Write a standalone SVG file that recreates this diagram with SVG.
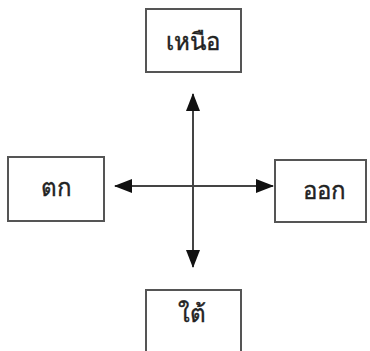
<svg xmlns="http://www.w3.org/2000/svg" width="370" height="351" viewBox="0 0 370 351">
<style>
.box{fill:#fff;stroke:#555;stroke-width:2}
.lbl{font-family:"Noto Sans","DejaVu Sans",sans-serif;font-size:24px;fill:#222;stroke:#222;stroke-width:0.4;text-anchor:middle}
.con{stroke:#444;stroke-width:2;fill:none}
</style>
<defs>
<marker id="ah" markerWidth="9" markerHeight="7" refX="8.5" refY="3.5" orient="auto" markerUnits="strokeWidth">
<path d="M0,0 L9,3.5 L0,7 Z" fill="#111"/>
</marker>
</defs>
<rect width="370" height="351" fill="#fff"/>
<g id="north"><rect class="box" x="146" y="9" width="95" height="63"/><text class="lbl" x="193" y="50">เหนือ</text></g>
<g id="west"><rect class="box" x="8" y="157" width="96" height="64"/><text class="lbl" x="56" y="196">ตก</text></g>
<g id="east"><rect class="box" x="275" y="160" width="91" height="62"/><text class="lbl" x="324" y="199">ออก</text></g>
<g id="south"><rect class="box" x="146" y="290" width="95" height="70"/><text class="lbl" x="192" y="322">ใต้</text></g>
<g id="connectors">
<line class="con" x1="193" y1="186" x2="193" y2="94" marker-end="url(#ah)"/>
<line class="con" x1="193" y1="186" x2="193" y2="267" marker-end="url(#ah)"/>
<line class="con" x1="193" y1="186" x2="115" y2="186" marker-end="url(#ah)"/>
<line class="con" x1="193" y1="186" x2="273" y2="186" marker-end="url(#ah)"/>
</g>
</svg>
